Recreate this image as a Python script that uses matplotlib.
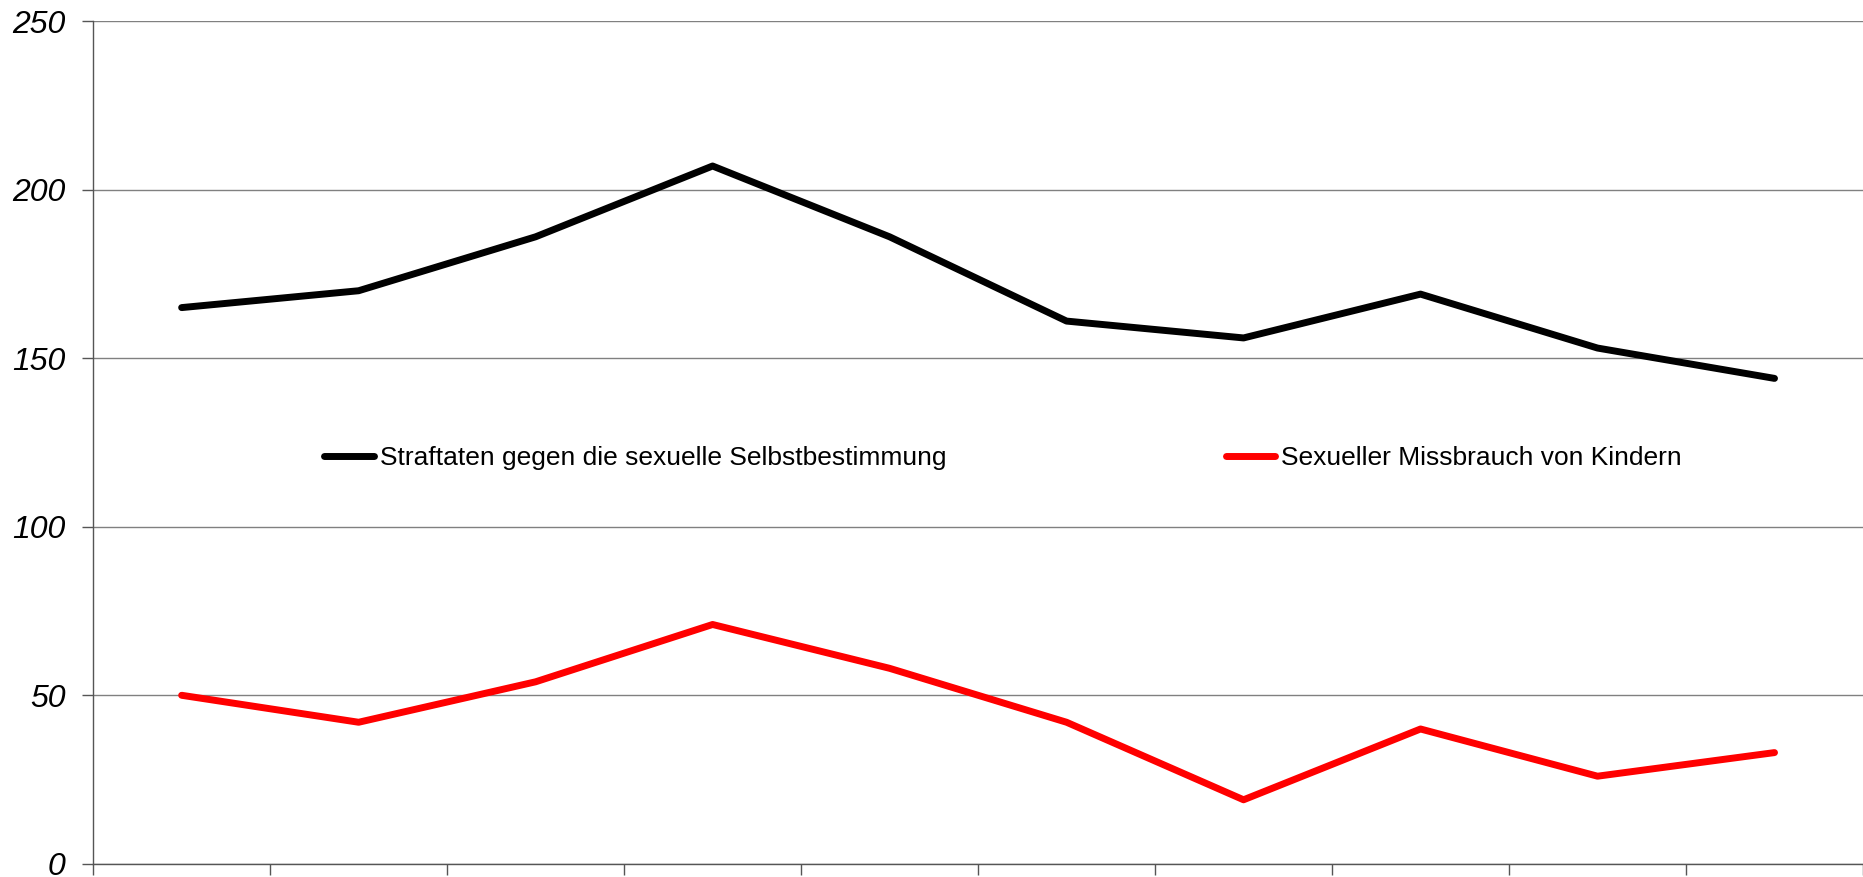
import matplotlib
matplotlib.use("Agg")
import matplotlib.pyplot as plt

plt.rcParams["font.family"] = ["Liberation Sans", "DejaVu Sans"]

# ten years, no labels on the x axis in the original
positions = list(range(10))
straftaten = [165, 170, 186, 207, 186, 161, 156, 169, 153, 144]
missbrauch = [50, 42, 54, 71, 58, 42, 19, 40, 26, 33]
y_ticks = [0, 50, 100, 150, 200, 250]
labels = ["Straftaten gegen die sexuelle Selbstbestimmung", "Sexueller Missbrauch von Kindern"]


def make_chart():
    fig = plt.figure(figsize=(18.63, 8.77), dpi=100)
    ax = fig.add_axes([0.050, 0.015, 0.950, 0.961])

    ax.plot(positions, straftaten, color="black", lw=5, solid_capstyle="round",
            solid_joinstyle="round", label=labels[0])
    ax.plot(positions, missbrauch, color="#ff0000", lw=5, solid_capstyle="round",
            solid_joinstyle="round", label=labels[1])

    ax.set_xlim(-0.5, 9.5)
    ax.set_ylim(0, 250)
    ax.set_xticks([p - 0.5 for p in positions] + [9.5])
    ax.set_xticklabels([])
    ax.set_yticks(y_ticks)
    ax.set_yticklabels([str(v) for v in y_ticks], fontsize=23, fontstyle="italic")

    ax.yaxis.grid(True, color="#808080", lw=1)
    ax.set_axisbelow(True)
    for side in ["top", "right"]:
        ax.spines[side].set_visible(False)
    for side in ["left", "bottom"]:
        ax.spines[side].set_color("#555555")
        ax.spines[side].set_linewidth(1)
    ax.tick_params(axis="both", direction="out", length=8, color="#555555", width=1)
    ax.tick_params(axis="y", pad=12)

    ax.legend(loc="center left", bbox_to_anchor=(0.1305, 0.481), ncol=2, frameon=False,
              fontsize=19, handlelength=1.88, handletextpad=0.22, columnspacing=10.6,
              borderaxespad=0, borderpad=0)

    fig.savefig("out.png", dpi=100)
    plt.close(fig)


if __name__ == "__main__":
    make_chart()
